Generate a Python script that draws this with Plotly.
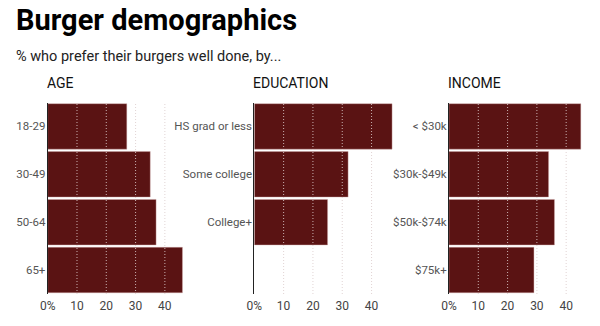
import plotly.graph_objects as go

title = "Burger demographics"
subtitle = "% who prefer their burgers well done, by..."

age_labels = ["18-29", "30-49", "50-64", "65+"]
age_values = [27, 35, 37, 46]

edu_labels = ["HS grad or less", "Some college", "College+"]
edu_values = [47, 32, 25]

inc_labels = ["< $30k", "$30k-$49k", "$50k-$74k", "$75k+"]
inc_values = [45, 34, 36, 29]

panel_titles = ["AGE", "EDUCATION", "INCOME"]
tick_vals = [0, 10, 20, 30, 40]
tick_text = ["0%", "10", "20", "30", "40"]

BAR = "#5a1313"
W, H = 600, 326

panels = [(age_labels, age_values), (edu_labels, edu_values), (inc_labels, inc_values)]
xdoms = [[47.7 / W, 188.3 / W], [254.3 / W, 395.0 / W], [449.0 / W, 589.6 / W]]
ydom = [1 - 294.0 / H, 1 - 102.5 / H]

fig = go.Figure()
shapes = []
annotations = []
for i, (labels, values) in enumerate(panels):
    n = "" if i == 0 else str(i + 1)
    fig.add_trace(go.Bar(
        x=values, y=labels, orientation="h",
        marker=dict(color=BAR, line=dict(color="rgba(210,170,170,0.7)", width=0.6)),
        xaxis="x" + n, yaxis="y" + n, showlegend=False, hoverinfo="x+y",
    ))
    fig.layout["xaxis" + n] = dict(
        domain=xdoms[i], range=[0, 48], anchor="y" + n, automargin=False,
        tickvals=tick_vals, ticktext=tick_text, showgrid=False, zeroline=False,
        showline=False, ticks="", ticklabelstandoff=3,
        tickfont=dict(family="Roboto", size=12, color="#444"),
        fixedrange=True,
    )
    fig.layout["yaxis" + n] = dict(
        domain=ydom, anchor="x" + n, type="category", automargin=False,
        categoryorder="array", categoryarray=labels, range=[3.5, -0.5],
        showline=True, linecolor="#222", linewidth=1, ticks="", showgrid=False,
        ticklabelstandoff=-1,
        tickfont=dict(family="Roboto", size=11.5, color="#555"), fixedrange=True,
    )
    for t in tick_vals[1:]:
        shapes.append(dict(
            type="line", xref="x" + n, yref="y" + n + " domain",
            x0=t, x1=t, y0=0, y1=1, layer="above",
            line=dict(color="rgba(220,205,205,0.85)", width=1, dash="1px,2px"),
        ))
    annotations.append(dict(
        text=panel_titles[i], xref="paper", yref="paper",
        x=xdoms[i][0] - 3 / W, y=1 - 73 / H, xanchor="left", yanchor="top",
        showarrow=False, font=dict(family="Roboto", size=14, color="#111"),
    ))

annotations.append(dict(
    text="<b>" + title + "</b>", xref="paper", yref="paper",
    x=14 / W, y=1 - 1 / H, xanchor="left", yanchor="top", showarrow=False,
    font=dict(family="Roboto", size=29, color="#000"),
))
annotations.append(dict(
    text=subtitle, xref="paper", yref="paper",
    x=14 / W, y=1 - 46 / H, xanchor="left", yanchor="top", showarrow=False,
    font=dict(family="Roboto", size=14.5, color="#222"),
))

fig.update_layout(
    width=W, height=H, margin=dict(l=0, r=0, t=0, b=0),
    paper_bgcolor="white", plot_bgcolor="white",
    bargap=0.05, shapes=shapes, annotations=annotations,
)

fig.write_html("out.html", config={"displayModeBar": False})
